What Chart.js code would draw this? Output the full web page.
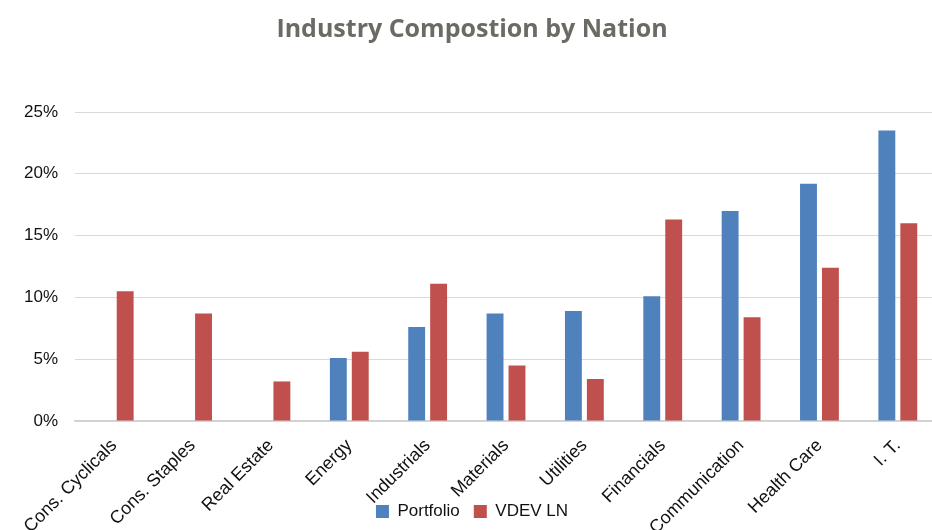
<!DOCTYPE html>
<html>
<head>
<meta charset="utf-8">
<script src="https://cdn.jsdelivr.net/npm/chart.js@4"></script>
<style>
  html, body { margin: 0; padding: 0; background: #fff; overflow: hidden; }
  #wrap { width: 937px; height: 530px; }
</style>
</head>
<body>
<div id="wrap"><canvas id="industryChart"></canvas></div>
<script>
// Sektor
const sectors = ['Cons. Cyclicals', 'Cons. Staples', 'Real Estate', 'Energy', 'Industrials',
  'Materials', 'Utilities', 'Financials', 'Communication', 'Health Care', 'I. T.'];

// Bobot (%)
const portfolio = [0, 0, 0, 5.1, 7.6, 8.7, 8.9, 10.1, 17.0, 19.2, 23.5];
const vdevLn = [10.5, 8.7, 3.2, 5.6, 11.1, 4.5, 3.4, 16.3, 8.4, 12.4, 16.0];

const yTicks = [0, 5, 10, 15, 20, 25];

// label sumbu x boleh turun menimpa legenda (seperti aslinya)
const unclipLabels = {
  id: 'unclipLabels',
  beforeDraw(chart) {
    chart.scales.x.bottom = chart.height;
  }
};

const config = {
  type: 'bar',
  data: {
    labels: sectors,
    datasets: [{
      label: 'Portfolio',
      data: portfolio,
      backgroundColor: '#4f81bd'
    }, {
      label: 'VDEV LN',
      data: vdevLn,
      backgroundColor: '#c0504d'
    }]
  },
  options: {
    responsive: true,
    maintainAspectRatio: false,
    animation: false,
    categoryPercentage: 0.56,
    barPercentage: 0.77,
    layout: { padding: { left: 7, right: 0, top: 0, bottom: 0 } },
    plugins: {
      title: {
        display: true,
        text: 'Industry Compostion by Nation',
        color: '#6b6a64',
        font: { family: '"Open Sans", sans-serif', size: 25, weight: 'bold' },
        padding: { top: 15, bottom: 67 }
      },
      legend: {
        display: true,
        position: 'bottom',
        labels: {
          color: '#111',
          font: { family: '"Liberation Sans", Arial, sans-serif', size: 17 },
          boxWidth: 13,
          boxHeight: 13,
          padding: 14
        }
      },
      tooltip: { enabled: false }
    },
    scales: {
      y: {
        min: 0,
        max: 25,
        afterBuildTicks: (s) => { s.ticks = yTicks.map(v => ({ value: v })); },
        border: { display: false },
        grid: { color: '#d9d9d9', drawTicks: false },
        ticks: {
          color: '#111',
          padding: 17,
          font: { family: '"Liberation Sans", Arial, sans-serif', size: 17 },
          callback: (v) => v + '%'
        }
      },
      x: {
        border: { display: true, color: '#d0d0d0', width: 1.5 },
        grid: { display: false },
        afterFit: (s) => { s.height = 68; },
        ticks: {
          color: '#111',
          maxRotation: 45,
          minRotation: 45,
          padding: 6,
          font: { family: '"Liberation Sans", Arial, sans-serif', size: 18 }
        }
      }
    }
  },
  plugins: [unclipLabels]
};

const ctx = document.getElementById('industryChart').getContext('2d');
new Chart(ctx, config);
</script>
</body>
</html>
